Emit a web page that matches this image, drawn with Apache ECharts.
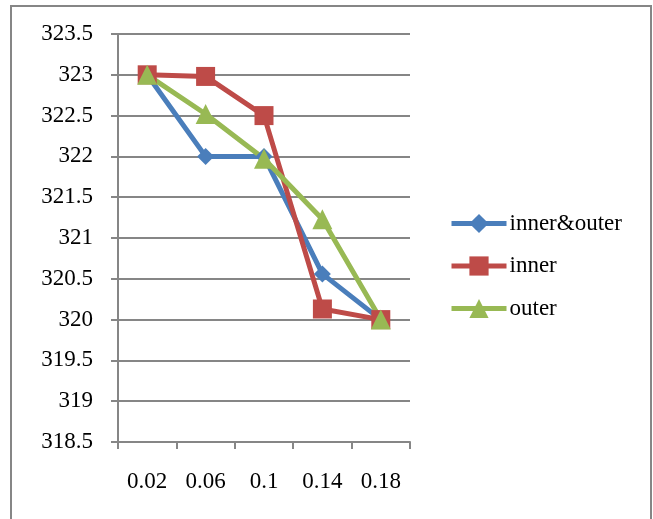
<!DOCTYPE html>
<html>
<head>
<meta charset="utf-8">
<script src="https://cdn.jsdelivr.net/npm/echarts@6/dist/echarts.min.js"></script>
<style>
    html, body { margin: 0; padding: 0; background: #fff; }
    #chart { width: 653px; height: 519px; }
</style>
</head>
<body>
<div id="chart"></div>
<script>
// data
const categories = ['0.02', '0.06', '0.1', '0.14', '0.18'];
const innerOuter = [323, 322, 322, 320.56, 320];
const inner = [323, 322.98, 322.5, 320.13, 320];
const outer = [323, 322.52, 321.97, 321.23, 320];

const axisGray = '#868686';
const font = 'Liberation Serif';

const chart = echarts.init(document.getElementById('chart'));

const option = {
    backgroundColor: '#fff',
    animation: false,
    textStyle: { fontFamily: font },
    graphic: [{
        type: 'rect',
        shape: { x: 11, y: 6, width: 640, height: 540 },
        style: { fill: 'none', stroke: axisGray, lineWidth: 2 }
    }],
    grid: {
        left: 118,
        right: 243,
        top: 34,
        bottom: 77,
        containLabel: false
    },
    legend: {
        orient: 'vertical',
        left: 449,
        top: 212,
        padding: 0,
        itemWidth: 55,
        itemHeight: 24,
        itemGap: 19.5,
        lineStyle: { width: 5 },
        textStyle: { fontFamily: font, fontSize: 23, color: '#000', padding: [0, 0, 0, -2] },
        data: ['inner&outer', 'inner', 'outer']
    },
    xAxis: {
        type: 'category',
        data: categories,
        boundaryGap: true,
        axisLine: { lineStyle: { color: axisGray, width: 2 } },
        axisTick: { show: true, length: 7, lineStyle: { color: axisGray, width: 2 } },
        axisLabel: { color: '#000', fontFamily: font, fontSize: 23, margin: 28 },
        splitLine: { show: false }
    },
    yAxis: {
        type: 'value',
        min: 318.5,
        max: 323.5,
        interval: 0.5,
        axisLine: { show: true, lineStyle: { color: axisGray, width: 2 } },
        axisTick: { show: true, length: 7, lineStyle: { color: axisGray, width: 2 } },
        axisLabel: { color: '#000', fontFamily: font, fontSize: 23, margin: 25 },
        splitLine: { show: true, lineStyle: { color: axisGray, width: 2 } }
    },
    series: [{
        name: 'inner&outer',
        type: 'line',
        data: innerOuter,
        symbol: 'diamond',
        symbolSize: 17,
        lineStyle: { color: '#4A7EBB', width: 5 },
        itemStyle: { color: '#4A7EBB' }
    }, {
        name: 'inner',
        type: 'line',
        data: inner,
        symbol: 'rect',
        symbolSize: 19,
        lineStyle: { color: '#BE4B48', width: 5 },
        itemStyle: { color: '#BE4B48' }
    }, {
        name: 'outer',
        type: 'line',
        data: outer,
        symbol: 'triangle',
        symbolSize: 20,
        lineStyle: { color: '#98B954', width: 5 },
        itemStyle: { color: '#98B954' }
    }]
};

chart.setOption(option);
</script>
</body>
</html>
